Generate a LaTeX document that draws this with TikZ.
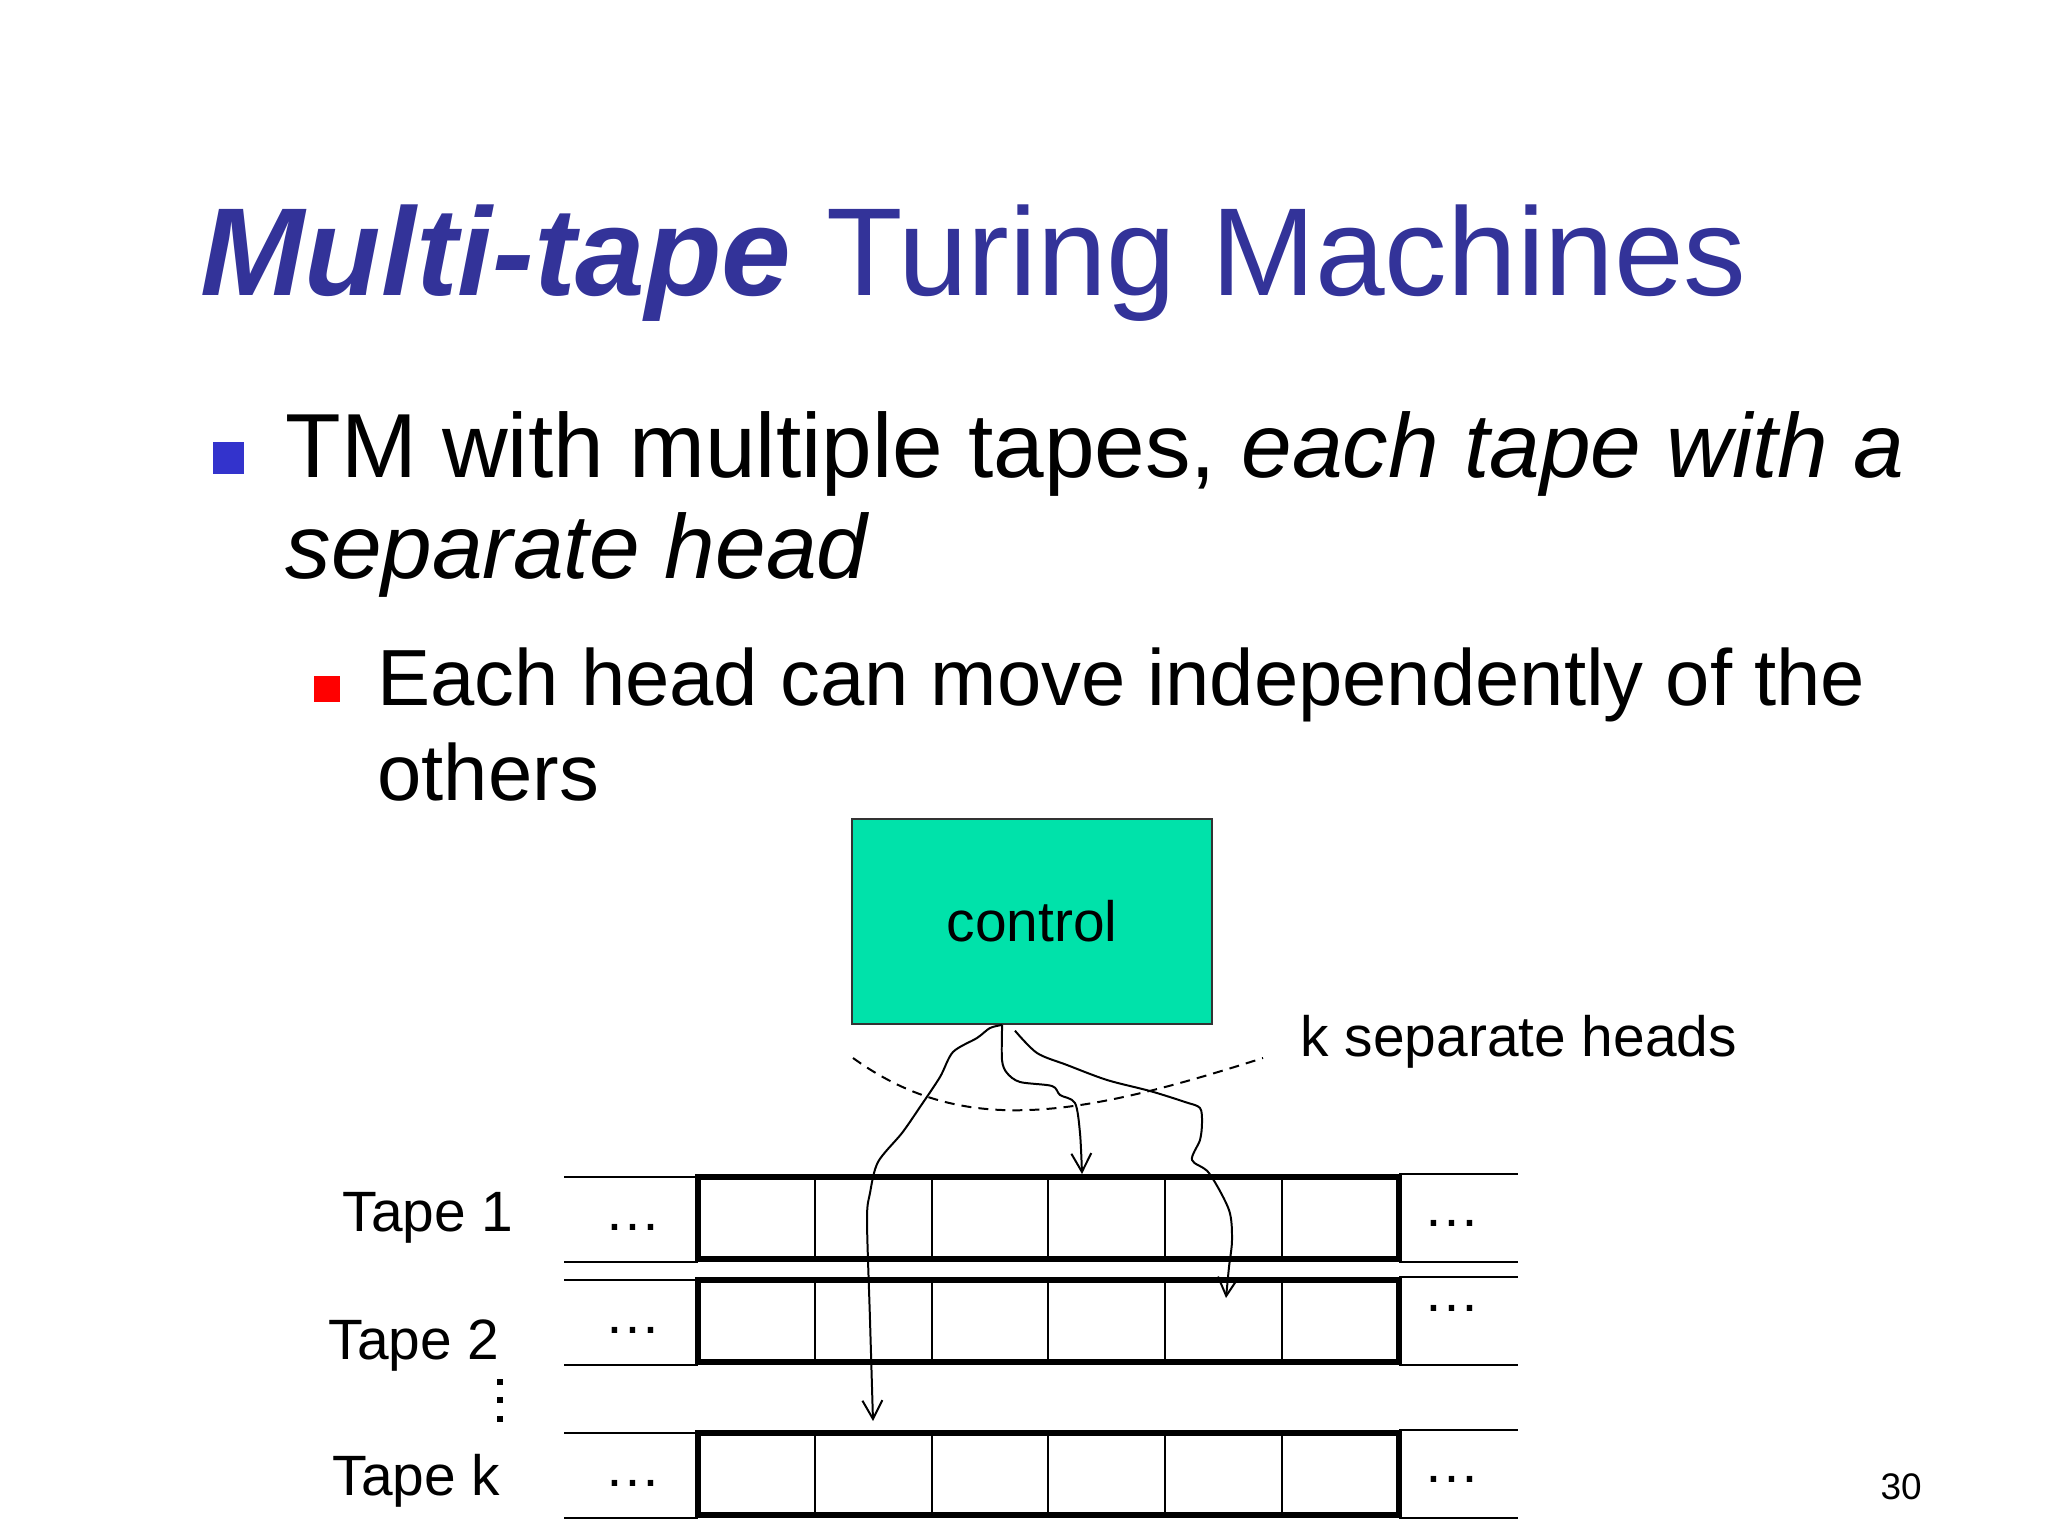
\documentclass[tikz,border=0pt]{standalone}
\usepackage{fontspec}
\setmainfont{Liberation Sans}
\usetikzlibrary{arrows.meta}
\definecolor{titleblue}{RGB}{51,51,153}
\definecolor{bulletblue}{RGB}{51,51,204}
\definecolor{ctrlgreen}{RGB}{0,226,170}
\tikzset{
	txt/.style={inner sep=0pt, anchor=base west},
	lbl/.style={inner sep=0pt, anchor=base west, font=\fontsize{20}{24}\selectfont},
	dots/.style={inner sep=0pt, anchor=base, font=\fontsize{20}{24}\selectfont},
	tapeframe/.style={line width=2pt},
	cellline/.style={line width=0.75pt},
	head/.style={line width=0.7pt, -{Straight Barb[length=6.5pt,width=7pt]}}
}
\begin{document}
\begin{tikzpicture}[x=0.3515625pt, y=-0.3515625pt]
				\useasboundingbox (0,0) rectangle (2048,1536);
				
				\node[txt, text=titleblue, font=\fontsize{44}{53}\selectfont] (title) at (200,296) {\textbf{\textit{Multi-tape}} Turing Machines};
				
				\fill[bulletblue] (213,442) rectangle (244,474);
				\node[txt, font=\fontsize{32}{38}\selectfont] (item1a) at (285,478) {TM with multiple tapes, \textit{each tape with a}};
				\node[txt, font=\fontsize{32}{38}\selectfont] (item1b) at (285,579) {\textit{separate head}};
				\fill[red] (314,676) rectangle (340,702);
				\node[txt, font=\fontsize{28}{34}\selectfont] (item2a) at (377,705) {Each head can move independently of the};
				\node[txt, font=\fontsize{28}{34}\selectfont] (item2b) at (377,800) {others};
				
				\node[draw=black!80, fill=ctrlgreen, line width=0.75pt, inner sep=0pt, minimum width=126.6pt, minimum height=72pt, font=\fontsize{20}{24}\selectfont] (ctrl) at (1032,921.5) {control};
				\node[lbl] (kheads) at (1300,1056) {k separate heads};
				\draw[line width=0.7pt, dash pattern=on 3.5pt off 2.5pt] (853,1058) .. controls (960,1135) and (1070,1120) .. (1263,1058);
				
				% tapes
				\foreach \t/\y in {1/1177, 2/1280, k/1433} {
					\draw[tapeframe] (698,\y) rectangle (1399,\y+82);
					\foreach \c in {1,...,5}
						\draw[cellline] (698+116.8*\c,\y) -- (698+116.8*\c,\y+82);
					\draw[cellline] (564,\y) -- (698,\y) (564,\y+85) -- (698,\y+85);
					\draw[cellline] (1399,\y-3) -- (1518,\y-3) (1399,\y+85) -- (1518,\y+85);
				}
				\foreach \x/\y [count=\n] in {633/1230, 1452/1226, 633/1333, 1452/1311, 633/1486, 1452/1482}
					\node[dots] (dot\n) at (\x,\y) {…};
				
				\node[lbl] (tape1) at (342,1231) {Tape 1};
				\node[lbl] (tape2) at (328,1359) {Tape 2};
				\node[lbl] (tapek) at (332,1495) {Tape k};
				\foreach \y in {1382,1400,1419}
					\fill (497,\y-3) rectangle (503,\y+3);
				
				% heads
				\coordinate (s1) at ([xshift=-10.5pt]ctrl.south);
				\coordinate (s2) at ([xshift=-6pt,yshift=-2pt]ctrl.south);
				\coordinate (h1) at (1082,1174);
				\coordinate (h2) at (1226,1298);
				\coordinate (hk) at (873,1421);
				\draw[head] plot[smooth, tension=0.5] coordinates {(s1) (990,1028) (977,1038) (953,1052) (940,1077) (920,1107) (902,1133) (878,1162) (870,1193) (867,1220) (870,1320) (hk)};
				\draw[head] plot[smooth, tension=0.5] coordinates {(s1) (1002,1060) (1007,1073) (1020,1082) (1052,1086) (1060,1095) (1075,1103) (1080,1133) (h1)};
				\draw[head] plot[smooth, tension=0.5] coordinates {(s2) (1037,1053) (1067,1065) (1107,1080) (1150,1091) (1185,1102) (1200,1108) (1202,1123) (1200,1140) (1192,1160) (1209,1173) (1229,1210) (1232,1240) (1229,1267) (h2)};
				
				\node[txt, font=\fontsize{13}{16}\selectfont] (pgno) at (1880,1499) {30};
			\end{tikzpicture}
\end{document}
